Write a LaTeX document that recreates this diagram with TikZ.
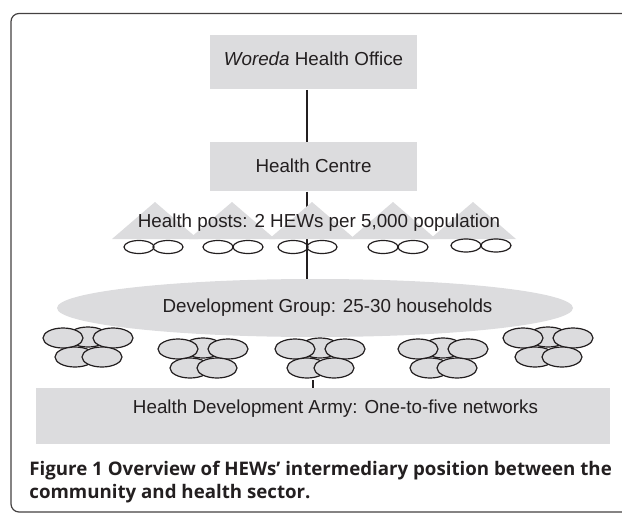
\documentclass[tikz,border=0pt]{standalone}
\usepackage{fontspec}
\setmainfont{Liberation Sans}
\newfontfamily\capfont{Open Sans}
\usetikzlibrary{positioning,shapes.geometric,calc}

\definecolor{panel}{RGB}{220,220,222}
\definecolor{ink}{RGB}{35,31,32}

\begin{document}
\begin{tikzpicture}[
  x=0.5pt, y=-0.5pt,
  font=\fontsize{9.4}{11}\selectfont,
  text=ink,
  link/.style={draw=ink, line width=0.8pt},
  frame/.style={draw=ink!85, line width=0.6pt, rounded corners=4pt},
  % the two offices at the top
  level/.style={fill=panel, minimum width=103.5pt, inner sep=0pt, text height=15pt},
  post/.style={fill=panel},
  hew/.style={ellipse, draw=ink, line width=0.6pt, minimum width=15pt, minimum height=6.5pt, inner sep=0pt},
  % development group and its one-to-five networks
  devgroup/.style={ellipse, fill=panel, minimum width=258pt, minimum height=29pt, inner sep=0pt},
  member/.style={ellipse, draw=ink, fill=panel, line width=0.6pt, minimum width=20pt, minimum height=10pt, inner sep=0pt},
  army/.style={fill=panel, minimum width=287pt, inner sep=0pt, text height=12.5pt, text depth=15.5pt},
  caption/.style={font=\capfont\bfseries\fontsize{9.35}{11.5}\selectfont, align=left, anchor=north west, inner sep=0pt}
]
\useasboundingbox (0,0) rectangle (622,514);

% ---------- Frame ----------
\draw[frame] (11,13.5) rectangle (660,512);

% ---------- Offices ----------
\node[level, text depth=12pt] (woreda) at (313.5,35) [anchor=north] {\emph{Woreda} Health Office};
\node[level, text depth=9.5pt, below=26pt of woreda] (centre) {Health Centre};

% ---------- Development group ----------
\node[devgroup] (group) at (315,308) {\hspace*{12.5pt}Development Group: 25-30 households};

\coordinate (spine) at (307,0);
\draw[link] (woreda.south -| spine) -- (centre.north -| spine);
\draw[link] (centre.south -| spine) -- (group.north -| spine);

% ---------- Health posts ----------
\foreach \px in {155,232,312,393,473}
  \fill[post] ({\px-43},239) -- (\px,202) -- ({\px+43},239) -- cycle;
\node[anchor=base] (posts) at (319,227) {Health posts: 2 HEWs per 5,000 population};

\foreach \hx/\hy [count=\i] in {139/247,168/247,218/247,248/247,293/247,322/247,383/247,413/247,466/245.5,496/245.5}
  \node[hew] (hew\i) at (\hx,\hy) {};

% ---------- One-to-five networks ----------
\foreach \cx/\cy [count=\g] in {88/338,203/349,320/349,443/349,548/338} {
  \node[member] (m\g b) at (\cx,{\cy-1}) {};
  \node[member] (m\g l) at ({\cx-25},\cy) {};
  \node[member] (m\g r) at ({\cx+25},\cy) {};
  \node[member] (m\g s) at ({\cx-13},{\cy+19}) {};
  \node[member] (m\g t) at ({\cx+14},{\cy+19}) {};
}

% ---------- Health Development Army ----------
\node[army] (hda) at (323,388) [anchor=north] {\hspace*{12.5pt}Health Development Army: One-to-five networks};
\coordinate (hub) at (313,380);
\draw[link] (hub) -- (hub |- hda.north);

% ---------- Caption ----------
\node[caption] (cap) at (29,461) {Figure 1 Overview of HEWs’ intermediary position between the\\community and health sector.};

\end{tikzpicture}
\end{document}
